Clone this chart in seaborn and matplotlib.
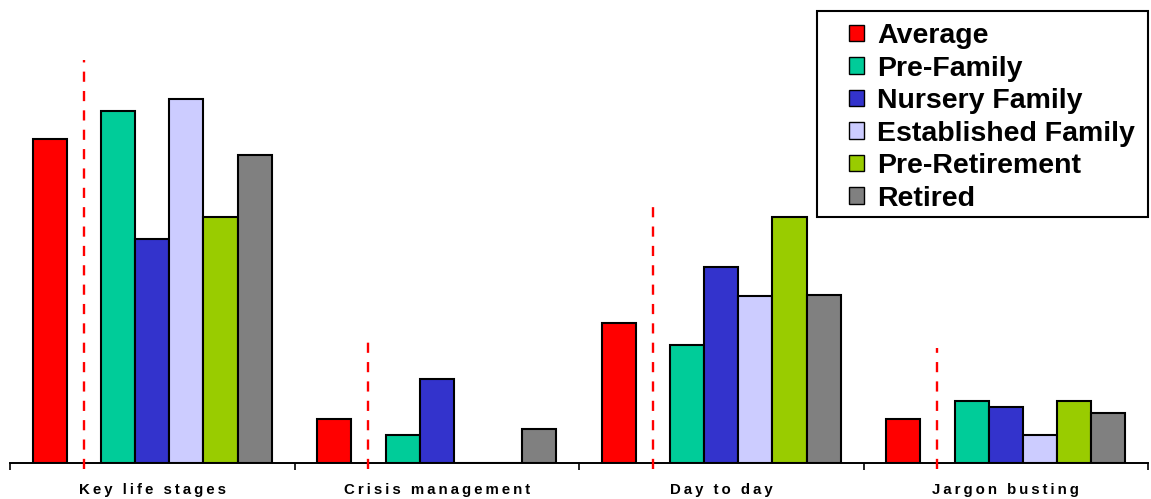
import pandas as pd
import seaborn as sns
import matplotlib.pyplot as plt
from matplotlib.patches import Patch, Rectangle

# chart data
groups = ['Key life stages', 'Crisis management', 'Day to day', 'Jargon busting']
stages = ['Average', 'Pre-Family', 'Nursery Family', 'Established Family',
          'Pre-Retirement', 'Retired']
average = [46.3, 6.3, 20.0, 6.3]
pre_family = [50.3, 4.0, 16.9, 8.9]
nursery = [32.0, 12.0, 28.0, 8.0]
established = [52.0, 0.0, 23.9, 4.0]
pre_retirement = [35.1, 0.0, 35.1, 8.9]
retired = [44.0, 4.9, 24.0, 7.1]
divider_tops = [57.6, 17.3, 36.6, 16.4]

colors = ['#FF0000', '#00CC99', '#3333CC', '#CCCCFF', '#99CC00', '#808080']

series = [average, pre_family, nursery, established, pre_retirement, retired]
rows = []
for stage, vals in zip(stages, series):
    for g, v in zip(groups, vals):
        rows.append({'group': g, 'stage': stage, 'value': v})
df = pd.DataFrame(rows)

# empty slot after "Average" where the dashed divider sits
hue_order = [stages[0], '_gap'] + stages[1:]
palette = dict(zip(stages, colors))
palette['_gap'] = 'white'

sns.set_style('white')
plt.rcParams['font.family'] = ['Liberation Sans', 'DejaVu Sans']
plt.rcParams['font.weight'] = 'bold'
plt.rcParams['text.color'] = 'black'
plt.rcParams['xtick.color'] = 'black'
plt.rcParams['xtick.labelcolor'] = 'black'

fig = plt.figure(figsize=(11.51, 4.99), dpi=100)
ax = fig.add_axes([10 / 1151, 36 / 499, 1138 / 1151, 463 / 499])

width = 0.84
sns.barplot(data=df, x='group', y='value', hue='stage', order=groups,
            hue_order=hue_order, palette=palette, width=width, gap=0,
            edgecolor='black', linewidth=1.5, saturation=1, legend=False,
            errorbar=None, ax=ax)

# red dashed dividers in the empty slot
slot = width / len(hue_order)
for i, top in enumerate(divider_tops):
    xd = i - width / 2 + 1.5 * slot
    ax.plot([xd, xd], [-0.9, top], color='red', lw=1.7,
            linestyle=(0, (4.3, 3.9)), clip_on=False, zorder=5)

ax.set_xlim(-0.5, 3.5)
ax.set_ylim(0, 463 / 7)
ax.set_xlabel('')
ax.set_ylabel('')
ax.set_yticks([])
for s in ['top', 'right', 'left']:
    ax.spines[s].set_visible(False)
ax.spines['bottom'].set_color('black')
ax.spines['bottom'].set_linewidth(1.4)
ax.set_xticks(range(len(groups)))
# the original labels are letter-spaced: thin spaces between characters
spaced = ['\u2009'.join(g) for g in groups]
ax.set_xticklabels(spaced, fontsize=10.8, fontweight='bold', color='black')
ax.set_xticks([-0.5, 0.5, 1.5, 2.5, 3.5], minor=True)
ax.tick_params(axis='x', which='major', length=0, pad=14.4)
ax.tick_params(axis='x', which='minor', length=5, width=1.2,
               direction='out', color='black', bottom=True)

handles = [Patch(facecolor=c, edgecolor='black', linewidth=1) for c in colors]
leg = ax.legend(handles, stages, loc='upper left',
                bbox_to_anchor=(849 / 1151, 1 - 23 / 499),
                bbox_transform=fig.transFigure, frameon=False,
                prop={'size': 20.5, 'weight': 'bold'},
                handlelength=0.52, handleheight=0.52, handletextpad=0.48,
                labelspacing=0.23, borderpad=0, borderaxespad=0)
for t in leg.get_texts():
    t.set_color('black')

fig.patches.append(Rectangle((817 / 1151, 1 - 217 / 499), 331 / 1151,
                             206 / 499, transform=fig.transFigure,
                             fill=False, edgecolor='black', linewidth=1.5))

plt.savefig('out.png', dpi=100)
